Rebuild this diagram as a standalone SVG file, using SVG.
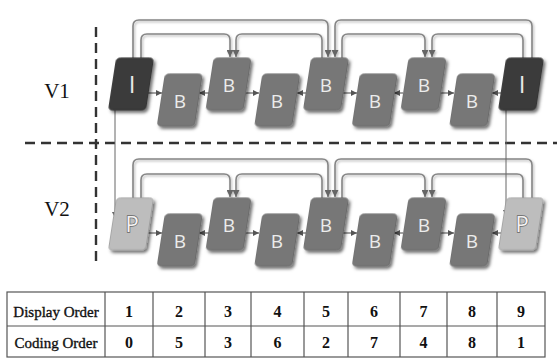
<svg xmlns="http://www.w3.org/2000/svg" width="557" height="360" viewBox="0 0 557 360">
<style>
.fi{fill:#3a3a3a;stroke:#2a2a2a;stroke-width:0.8}
.fb{fill:#777;stroke:#636363;stroke-width:0.8}
.fp{fill:#bdbdbd;stroke:#9a9a9a;stroke-width:0.8}
.lt{font-family:"Open Sans","DejaVu Sans",sans-serif;font-size:19px;fill:#ececec;text-anchor:middle}
.li{font-family:"Open Sans","DejaVu Sans",sans-serif;font-size:24px;fill:#e8e8e8;text-anchor:middle}
.lp{font-family:"Open Sans","DejaVu Sans",sans-serif;font-size:22px;fill:#f2f2f2;stroke:#666;stroke-width:1.4;paint-order:stroke;text-anchor:middle}
.arc{fill:none;stroke:#858585;stroke-width:1.6}
.ha{fill:none;stroke:#555;stroke-width:1.1}
.vl{fill:none;stroke:#666;stroke-width:1}
.dash{fill:none;stroke:#333;stroke-width:2.4;stroke-dasharray:10 6}
.vt{font-family:"Liberation Serif","Times New Roman",serif;font-size:21px;fill:#111;text-anchor:middle}
.tl{font-family:"Liberation Serif","Times New Roman",serif;font-size:15px;fill:#111;stroke:#111;stroke-width:0.35;text-anchor:middle}
.td{font-family:"Liberation Serif","Times New Roman",serif;font-size:16px;font-weight:bold;fill:#111;text-anchor:middle}
.grid{fill:none;stroke:#555;stroke-width:1.2}
</style>
<defs>
<filter id="sh" x="-30%" y="-30%" width="160%" height="160%">
<feDropShadow dx="2.5" dy="2.5" stdDeviation="1.8" flood-color="#000" flood-opacity="0.55"/>
</filter>
<filter id="lsh" x="-10%" y="-10%" width="120%" height="120%">
<feDropShadow dx="1.2" dy="1.5" stdDeviation="1.3" flood-color="#000" flood-opacity="0.3"/>
</filter>
<marker id="ah" viewBox="0 0 10 10" refX="10" refY="5" markerWidth="6" markerHeight="6" markerUnits="userSpaceOnUse" orient="auto">
<path d="M0,0 L10,5 L0,10 z" fill="#555"/>
</marker>
<marker id="ah2" viewBox="0 0 10 10" refX="10" refY="5" markerWidth="7" markerHeight="7" markerUnits="userSpaceOnUse" orient="auto">
<path d="M0,0 L10,5 L0,10 z" fill="#666"/>
</marker>
</defs>

<rect width="557" height="360" fill="#fff"/>

<g id="separators">
<line class="dash" x1="96" y1="27" x2="96" y2="262"/>
<line class="dash" x1="25" y1="143" x2="557" y2="143"/>
</g>

<g id="label-v1"><text class="vt" x="57" y="98">V1</text></g>
<g id="label-v2"><text class="vt" x="57" y="216">V2</text></g>

<g id="connectors">
<g filter="url(#lsh)">
<path class="arc" marker-end="url(#ah2)" d="M133,58 V26 Q133,20 139,20 H322 Q328,20 328,26 V57"/>
<path class="arc" marker-end="url(#ah2)" d="M532,58 V26 Q532,20 526,20 H341 Q335,20 335,26 V57"/>
<path class="arc" marker-end="url(#ah2)" d="M141,58 V40 Q141,34 147,34 H224 Q230,34 230,40 V57"/>
<path class="arc" marker-end="url(#ah2)" d="M322,58 V40 Q322,34 316,34 H242 Q236,34 236,40 V57"/>
<path class="arc" marker-end="url(#ah2)" d="M342,58 V40 Q342,34 348,34 H419 Q425,34 425,40 V57"/>
<path class="arc" marker-end="url(#ah2)" d="M523,58 V40 Q523,34 517,34 H438 Q432,34 432,40 V57"/>
<path class="arc" marker-end="url(#ah2)" d="M133,198 V165 Q133,159 139,159 H322 Q328,159 328,165 V197"/>
<path class="arc" marker-end="url(#ah2)" d="M532,198 V165 Q532,159 526,159 H341 Q335,159 335,165 V197"/>
<path class="arc" marker-end="url(#ah2)" d="M141,198 V180 Q141,174 147,174 H224 Q230,174 230,180 V197"/>
<path class="arc" marker-end="url(#ah2)" d="M322,198 V180 Q322,174 316,174 H242 Q236,174 236,180 V197"/>
<path class="arc" marker-end="url(#ah2)" d="M342,198 V180 Q342,174 348,174 H419 Q425,174 425,180 V197"/>
<path class="arc" marker-end="url(#ah2)" d="M523,198 V180 Q523,174 517,174 H438 Q432,174 432,180 V197"/>
</g>
<line class="ha" marker-end="url(#ah)" x1="148" y1="93" x2="162" y2="93"/>
<line class="ha" marker-end="url(#ah)" x1="209" y1="93" x2="199" y2="93"/>
<line class="ha" marker-end="url(#ah)" x1="246" y1="93" x2="259" y2="93"/>
<line class="ha" marker-end="url(#ah)" x1="306" y1="93" x2="297" y2="93"/>
<line class="ha" marker-end="url(#ah)" x1="343" y1="93" x2="357" y2="93"/>
<line class="ha" marker-end="url(#ah)" x1="403" y1="93" x2="394" y2="93"/>
<line class="ha" marker-end="url(#ah)" x1="440" y1="93" x2="454" y2="93"/>
<line class="ha" marker-end="url(#ah)" x1="501" y1="93" x2="492" y2="93"/>
<line class="ha" marker-end="url(#ah)" x1="148" y1="233" x2="162" y2="233"/>
<line class="ha" marker-end="url(#ah)" x1="209" y1="233" x2="199" y2="233"/>
<line class="ha" marker-end="url(#ah)" x1="246" y1="233" x2="259" y2="233"/>
<line class="ha" marker-end="url(#ah)" x1="306" y1="233" x2="297" y2="233"/>
<line class="ha" marker-end="url(#ah)" x1="343" y1="233" x2="357" y2="233"/>
<line class="ha" marker-end="url(#ah)" x1="403" y1="233" x2="394" y2="233"/>
<line class="ha" marker-end="url(#ah)" x1="440" y1="233" x2="454" y2="233"/>
<line class="ha" marker-end="url(#ah)" x1="501" y1="233" x2="492" y2="233"/>
<line class="vl" marker-end="url(#ah)" x1="115" y1="110" x2="115" y2="218"/>
<line class="vl" marker-end="url(#ah)" x1="506" y1="110" x2="506" y2="216"/>
</g>

<g id="v1-f1"><rect class="fi" filter="url(#sh)" transform="translate(131,84) skewX(-8.75)" x="-18.5" y="-26" width="37" height="52" rx="4"/><text class="li" x="132" y="93">I</text></g>
<g id="v1-f2"><rect class="fb" filter="url(#sh)" transform="translate(179.75,100) skewX(-8.75)" x="-18.5" y="-26" width="37" height="52" rx="4"/><text class="lt" x="180" y="108">B</text></g>
<g id="v1-f3"><rect class="fb" filter="url(#sh)" transform="translate(228.5,84) skewX(-8.75)" x="-18.5" y="-26" width="37" height="52" rx="4"/><text class="lt" x="229" y="92">B</text></g>
<g id="v1-f4"><rect class="fb" filter="url(#sh)" transform="translate(277.25,100) skewX(-8.75)" x="-18.5" y="-26" width="37" height="52" rx="4"/><text class="lt" x="277" y="108">B</text></g>
<g id="v1-f5"><rect class="fb" filter="url(#sh)" transform="translate(326,84) skewX(-8.75)" x="-18.5" y="-26" width="37" height="52" rx="4"/><text class="lt" x="326" y="92">B</text></g>
<g id="v1-f6"><rect class="fb" filter="url(#sh)" transform="translate(374.75,100) skewX(-8.75)" x="-18.5" y="-26" width="37" height="52" rx="4"/><text class="lt" x="375" y="108">B</text></g>
<g id="v1-f7"><rect class="fb" filter="url(#sh)" transform="translate(423.5,84) skewX(-8.75)" x="-18.5" y="-26" width="37" height="52" rx="4"/><text class="lt" x="424" y="92">B</text></g>
<g id="v1-f8"><rect class="fb" filter="url(#sh)" transform="translate(472.25,100) skewX(-8.75)" x="-18.5" y="-26" width="37" height="52" rx="4"/><text class="lt" x="472" y="108">B</text></g>
<g id="v1-f9"><rect class="fi" filter="url(#sh)" transform="translate(521,84) skewX(-8.75)" x="-18.5" y="-26" width="37" height="52" rx="4"/><text class="li" x="522" y="93">I</text></g>

<g id="v2-f1"><rect class="fp" filter="url(#sh)" transform="translate(131,224) skewX(-8.75)" x="-18.5" y="-26" width="37" height="52" rx="4"/><text class="lp" x="132" y="232">P</text></g>
<g id="v2-f2"><rect class="fb" filter="url(#sh)" transform="translate(179.75,240) skewX(-8.75)" x="-18.5" y="-26" width="37" height="52" rx="4"/><text class="lt" x="180" y="248">B</text></g>
<g id="v2-f3"><rect class="fb" filter="url(#sh)" transform="translate(228.5,224) skewX(-8.75)" x="-18.5" y="-26" width="37" height="52" rx="4"/><text class="lt" x="229" y="232">B</text></g>
<g id="v2-f4"><rect class="fb" filter="url(#sh)" transform="translate(277.25,240) skewX(-8.75)" x="-18.5" y="-26" width="37" height="52" rx="4"/><text class="lt" x="277" y="248">B</text></g>
<g id="v2-f5"><rect class="fb" filter="url(#sh)" transform="translate(326,224) skewX(-8.75)" x="-18.5" y="-26" width="37" height="52" rx="4"/><text class="lt" x="326" y="232">B</text></g>
<g id="v2-f6"><rect class="fb" filter="url(#sh)" transform="translate(374.75,240) skewX(-8.75)" x="-18.5" y="-26" width="37" height="52" rx="4"/><text class="lt" x="375" y="248">B</text></g>
<g id="v2-f7"><rect class="fb" filter="url(#sh)" transform="translate(423.5,224) skewX(-8.75)" x="-18.5" y="-26" width="37" height="52" rx="4"/><text class="lt" x="424" y="232">B</text></g>
<g id="v2-f8"><rect class="fb" filter="url(#sh)" transform="translate(472.25,240) skewX(-8.75)" x="-18.5" y="-26" width="37" height="52" rx="4"/><text class="lt" x="472" y="248">B</text></g>
<g id="v2-f9"><rect class="fp" filter="url(#sh)" transform="translate(521,224) skewX(-8.75)" x="-18.5" y="-26" width="37" height="52" rx="4"/><text class="lp" x="522" y="232">P</text></g>

<g id="order-table">
<rect class="grid" x="7" y="292" width="538" height="65" fill="#fff"/>
<line class="grid" x1="7" y1="326" x2="545" y2="326"/>
<line class="grid" x1="105" y1="292" x2="105" y2="357"/>
<line class="grid" x1="153" y1="292" x2="153" y2="357"/>
<line class="grid" x1="205" y1="292" x2="205" y2="357"/>
<line class="grid" x1="251" y1="292" x2="251" y2="357"/>
<line class="grid" x1="304" y1="292" x2="304" y2="357"/>
<line class="grid" x1="348" y1="292" x2="348" y2="357"/>
<line class="grid" x1="400" y1="292" x2="400" y2="357"/>
<line class="grid" x1="447" y1="292" x2="447" y2="357"/>
<line class="grid" x1="497" y1="292" x2="497" y2="357"/>
<text class="tl" x="56" y="317">Display Order</text>
<text class="tl" x="56" y="348">Coding Order</text>
<text class="td" x="129" y="317">1</text>
<text class="td" x="179" y="317">2</text>
<text class="td" x="228" y="317">3</text>
<text class="td" x="277.5" y="317">4</text>
<text class="td" x="326" y="317">5</text>
<text class="td" x="374" y="317">6</text>
<text class="td" x="423.5" y="317">7</text>
<text class="td" x="472" y="317">8</text>
<text class="td" x="521" y="317">9</text>
<text class="td" x="129" y="348">0</text>
<text class="td" x="179" y="348">5</text>
<text class="td" x="228" y="348">3</text>
<text class="td" x="277.5" y="348">6</text>
<text class="td" x="326" y="348">2</text>
<text class="td" x="374" y="348">7</text>
<text class="td" x="423.5" y="348">4</text>
<text class="td" x="472" y="348">8</text>
<text class="td" x="521" y="348">1</text>
</g>
</svg>
